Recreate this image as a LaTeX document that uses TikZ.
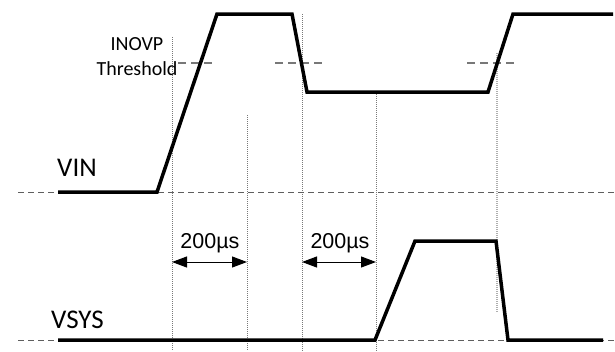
\documentclass[tikz,border=0pt]{standalone}
\usepackage{fontspec}
\setmainfont{Carlito}
\newfontfamily\arialfont{Liberation Sans}
\usetikzlibrary{arrows.meta}
\definecolor{basegray}{RGB}{95,95,95}
\definecolor{thrgray}{RGB}{120,120,120}
\definecolor{dotgray}{RGB}{120,120,120}
\tikzset{
  wave/.style={line width=3.5pt, line join=miter, black},
  baseline/.style={line width=1pt, basegray, dash pattern=on 6pt off 4pt},
  thr/.style={line width=1.5pt, thrgray, dash pattern=on 8pt off 5pt},
  guide/.style={line width=0.7pt, dotgray, dash pattern=on 1pt off 1pt},
  guidelight/.style={line width=1.2pt, dotgray!60, dash pattern=on 1pt off 1pt},
  dim/.style={line width=1pt, {Triangle[length=15pt,width=11pt]}-{Triangle[length=15pt,width=11pt]}},
  siglabel/.style={font=\fontsize{27}{30}\selectfont, inner sep=0pt},
  thrlabel/.style={font=\fontsize{20}{24}\selectfont, inner sep=0pt},
  timelabel/.style={font=\arialfont\fontsize{21.5}{25}\selectfont, inner sep=0pt},
}
\begin{document}
\begin{tikzpicture}[x=1pt,y=-1pt]
\useasboundingbox (0,0) rectangle (615,351);
% coordinates
\coordinate (vinL) at (18,192);
\coordinate (vinR) at (615,192);
\coordinate (vsysL) at (18,340);
\coordinate (vsysR) at (615,340);
% guide lines
\coordinate (g1t) at (172,37);  \coordinate (g1b) at (172,351);
\coordinate (g2t) at (247,115); \coordinate (g2b) at (247,351);
\coordinate (g3t) at (302,14);  \coordinate (g3b) at (302,351);
\coordinate (g4t) at (376,92);  \coordinate (g4b) at (376,351);
\coordinate (g5t) at (497,53);  \coordinate (g5b) at (497,312);
\draw[guide] (g1t) -- (g1b);
\draw[guide] (g2t) -- (g2b);
\draw[guide] (g3t) -- (g3b);
\draw[guide] (g4t) -- (g4b);
\draw[guidelight] (g5t) -- (g5b);
% baselines
\draw[baseline] (vinL) -- (vinR);
\draw[baseline] (vsysL) -- (vsysR);
% threshold dashes
\coordinate (t1a) at (178,63); \coordinate (t1b) at (216,63);
\coordinate (t2a) at (275,63); \coordinate (t2b) at (322,63);
\coordinate (t3a) at (467,63); \coordinate (t3b) at (514,63);
\draw[thr] (t1a) -- (t1b);
\draw[thr] (t2a) -- (t2b);
\draw[thr] (t3a) -- (t3b);
% VIN waveform
\coordinate (a0) at (58,192);
\coordinate (a1) at (157,192);
\coordinate (a2) at (217,14);
\coordinate (a3) at (292,14);
\coordinate (a4) at (307,92);
\coordinate (a5) at (488,92);
\coordinate (a6) at (513,14);
\coordinate (a7) at (613,14);
\draw[wave] (a0) -- (a1) -- (a2) -- (a3) -- (a4) -- (a5) -- (a6) -- (a7);
% VSYS waveform
\coordinate (b0) at (58,340);
\coordinate (b1) at (375,340);
\coordinate (b2) at (415,241);
\coordinate (b3) at (496,241);
\coordinate (b4) at (508,340);
\coordinate (b5) at (603,340);
\draw[wave] (b0) -- (b1) -- (b2) -- (b3) -- (b4) -- (b5);
% dimension arrows
\coordinate (d1a) at (172,262); \coordinate (d1b) at (247,262);
\coordinate (d2a) at (302,262); \coordinate (d2b) at (376,262);
\draw[dim] (d1a) -- (d1b);
\draw[dim] (d2a) -- (d2b);
% labels
\node[timelabel, anchor=base] (l1) at (210,248) {200µs};
\node[timelabel, anchor=base] (l2) at (340,248) {200µs};
\node[siglabel, anchor=base west] (vin) at (57,176) {VIN};
\node[siglabel, anchor=base west] (vsys) at (51,328) {VSYS};
\node[thrlabel, anchor=base] (inovp) at (137,50) {INOVP};
\node[thrlabel, anchor=base] (thrtxt) at (137,75) {Threshold};
\end{tikzpicture}
\end{document}
